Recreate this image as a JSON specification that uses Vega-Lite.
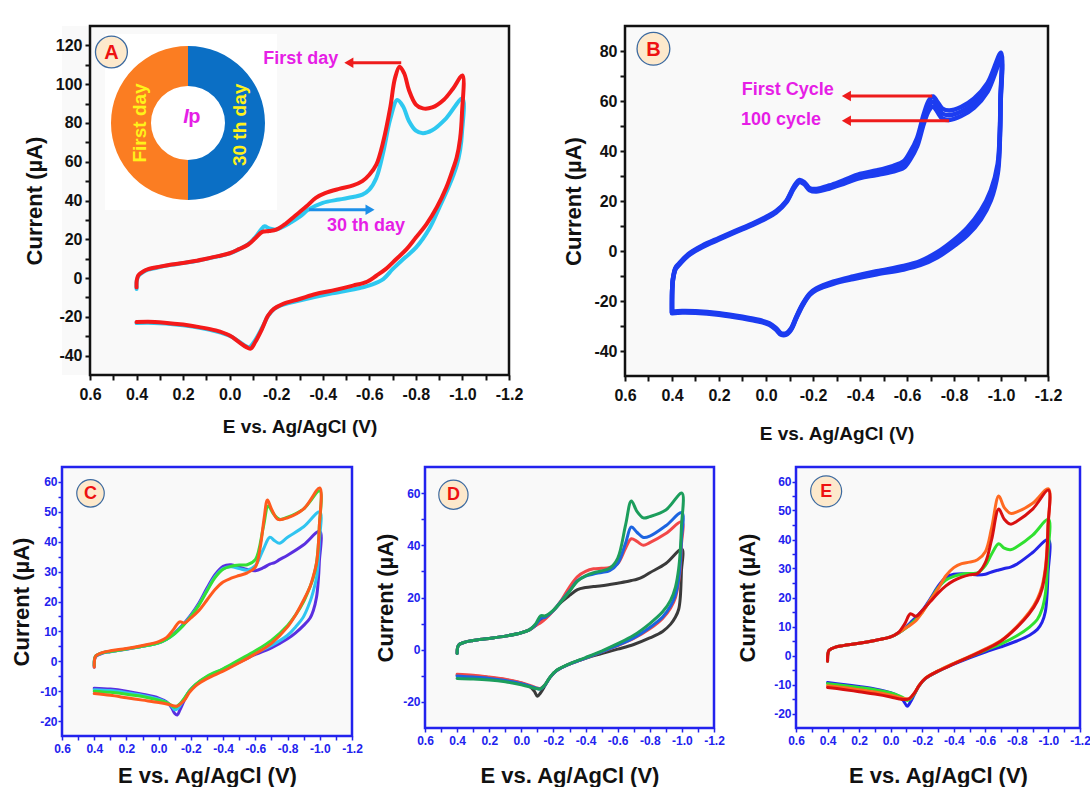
{
  "$schema": "https://vega.github.io/schema/vega-lite/v6.json",
  "background": "#ffffff",
  "padding": {"left": 8, "top": 24, "right": 0, "bottom": 0},
  "config": {
    "font": "Liberation Sans",
    "axis": {"grid": false, "domain": false, "ticks": true, "tickCount": 100, "labelFlush": false, "labelOverlap": false, "labelBound": false, "labelFontWeight": "bold", "titleFontWeight": "bold", "titleBaseline": "middle", "titleAlign": "center"},
    "text": {"fontWeight": "bold"}
  },
  "datasets": {
    "pa": [
      {"s":"30 th day","E":0.4,"I":-5.6},{"s":"30 th day","E":0.399,"I":-1.5},{"s":"30 th day","E":0.392,"I":1},{"s":"30 th day","E":0.37,"I":3.2},{"s":"30 th day","E":0.35,"I":4.3},{"s":"30 th day","E":0.3,"I":5.7},{"s":"30 th day","E":0.25,"I":6.8},{"s":"30 th day","E":0.2,"I":7.7},{"s":"30 th day","E":0.15,"I":8.7},{"s":"30 th day","E":0.1,"I":9.9},{"s":"30 th day","E":0.05,"I":11.2},{"s":"30 th day","E":0,"I":12.7},{"s":"30 th day","E":-0.04,"I":14.8},{"s":"30 th day","E":-0.08,"I":17.5},{"s":"30 th day","E":-0.11,"I":21},{"s":"30 th day","E":-0.135,"I":25},{"s":"30 th day","E":-0.15,"I":26.7},{"s":"30 th day","E":-0.17,"I":25.6},{"s":"30 th day","E":-0.2,"I":25},{"s":"30 th day","E":-0.23,"I":26.5},{"s":"30 th day","E":-0.26,"I":28.5},{"s":"30 th day","E":-0.3,"I":31.5},{"s":"30 th day","E":-0.34,"I":35.4},{"s":"30 th day","E":-0.4,"I":38.8},{"s":"30 th day","E":-0.47,"I":40.5},{"s":"30 th day","E":-0.53,"I":41.8},{"s":"30 th day","E":-0.57,"I":43},{"s":"30 th day","E":-0.6,"I":45.6},{"s":"30 th day","E":-0.63,"I":51.6},{"s":"30 th day","E":-0.66,"I":65},{"s":"30 th day","E":-0.69,"I":82},{"s":"30 th day","E":-0.72,"I":91.8},{"s":"30 th day","E":-0.745,"I":88.5},{"s":"30 th day","E":-0.77,"I":81},{"s":"30 th day","E":-0.8,"I":76},{"s":"30 th day","E":-0.83,"I":74.7},{"s":"30 th day","E":-0.87,"I":76.2},{"s":"30 th day","E":-0.93,"I":82.4},{"s":"30 th day","E":-1,"I":92.6},
      {"s":"30 th day","E":-0.998,"I":75},{"s":"30 th day","E":-0.99,"I":66},{"s":"30 th day","E":-0.975,"I":58},{"s":"30 th day","E":-0.945,"I":48.2},{"s":"30 th day","E":-0.9,"I":36.2},{"s":"30 th day","E":-0.86,"I":26},{"s":"30 th day","E":-0.8,"I":15.7},{"s":"30 th day","E":-0.745,"I":9.7},{"s":"30 th day","E":-0.7,"I":4.6},{"s":"30 th day","E":-0.66,"I":-0.5},{"s":"30 th day","E":-0.61,"I":-3.4},{"s":"30 th day","E":-0.56,"I":-5.1},{"s":"30 th day","E":-0.44,"I":-7.9},{"s":"30 th day","E":-0.3,"I":-11.6},{"s":"30 th day","E":-0.23,"I":-13.7},{"s":"30 th day","E":-0.19,"I":-16},{"s":"30 th day","E":-0.165,"I":-19.5},{"s":"30 th day","E":-0.14,"I":-25.5},{"s":"30 th day","E":-0.11,"I":-32},{"s":"30 th day","E":-0.085,"I":-35.6},{"s":"30 th day","E":-0.065,"I":-34.8},{"s":"30 th day","E":-0.01,"I":-30.4},{"s":"30 th day","E":0.06,"I":-27.5},{"s":"30 th day","E":0.2,"I":-24.4},{"s":"30 th day","E":0.35,"I":-23},{"s":"30 th day","E":0.4,"I":-23.2},
      {"s":"First day","E":0.4,"I":-4.8},{"s":"First day","E":0.399,"I":-1},{"s":"First day","E":0.392,"I":1.5},{"s":"First day","E":0.37,"I":3.5},{"s":"First day","E":0.35,"I":4.6},{"s":"First day","E":0.3,"I":5.9},{"s":"First day","E":0.25,"I":7},{"s":"First day","E":0.2,"I":7.8},{"s":"First day","E":0.15,"I":8.8},{"s":"First day","E":0.1,"I":10},{"s":"First day","E":0.05,"I":11.3},{"s":"First day","E":0,"I":12.8},{"s":"First day","E":-0.04,"I":14.9},{"s":"First day","E":-0.08,"I":17.3},{"s":"First day","E":-0.11,"I":20.5},{"s":"First day","E":-0.14,"I":23.8},{"s":"First day","E":-0.17,"I":24.3},{"s":"First day","E":-0.2,"I":25},{"s":"First day","E":-0.24,"I":28},{"s":"First day","E":-0.28,"I":32},{"s":"First day","E":-0.33,"I":37},{"s":"First day","E":-0.37,"I":41.4},{"s":"First day","E":-0.41,"I":43.8},{"s":"First day","E":-0.47,"I":46},{"s":"First day","E":-0.53,"I":47.8},{"s":"First day","E":-0.57,"I":50},{"s":"First day","E":-0.6,"I":53.3},{"s":"First day","E":-0.63,"I":58.5},{"s":"First day","E":-0.66,"I":70.5},{"s":"First day","E":-0.69,"I":88},{"s":"First day","E":-0.71,"I":103},{"s":"First day","E":-0.73,"I":109},{"s":"First day","E":-0.75,"I":105.5},{"s":"First day","E":-0.77,"I":97},{"s":"First day","E":-0.8,"I":89.5},{"s":"First day","E":-0.83,"I":87.5},{"s":"First day","E":-0.87,"I":88},{"s":"First day","E":-0.92,"I":92},{"s":"First day","E":-0.96,"I":97.8},{"s":"First day","E":-1,"I":104.5},
      {"s":"First day","E":-0.998,"I":85},{"s":"First day","E":-0.99,"I":72},{"s":"First day","E":-0.975,"I":62},{"s":"First day","E":-0.96,"I":56.5},{"s":"First day","E":-0.93,"I":46.5},{"s":"First day","E":-0.89,"I":36.5},{"s":"First day","E":-0.845,"I":27.7},{"s":"First day","E":-0.8,"I":20.9},{"s":"First day","E":-0.76,"I":14.9},{"s":"First day","E":-0.715,"I":9.7},{"s":"First day","E":-0.67,"I":4.6},{"s":"First day","E":-0.63,"I":1.2},{"s":"First day","E":-0.59,"I":-1.9},{"s":"First day","E":-0.53,"I":-3.9},{"s":"First day","E":-0.44,"I":-6.5},{"s":"First day","E":-0.37,"I":-8.2},{"s":"First day","E":-0.3,"I":-10.8},{"s":"First day","E":-0.23,"I":-13.3},{"s":"First day","E":-0.19,"I":-15.9},{"s":"First day","E":-0.165,"I":-19.3},{"s":"First day","E":-0.14,"I":-26},{"s":"First day","E":-0.11,"I":-33},{"s":"First day","E":-0.09,"I":-36.4},{"s":"First day","E":-0.07,"I":-35.5},{"s":"First day","E":-0.04,"I":-33},{"s":"First day","E":0,"I":-29.6},{"s":"First day","E":0.06,"I":-27},{"s":"First day","E":0.13,"I":-25.3},{"s":"First day","E":0.2,"I":-24},{"s":"First day","E":0.28,"I":-23},{"s":"First day","E":0.35,"I":-22.5},{"s":"First day","E":0.4,"I":-22.7}
    ],
    "pb": [
      {"s":"cycle 1","E":0.4,"I":-24.6},{"s":"cycle 1","E":0.399,"I":-15},{"s":"cycle 1","E":0.395,"I":-10.5},{"s":"cycle 1","E":0.385,"I":-6.7},{"s":"cycle 1","E":0.371,"I":-5.1},{"s":"cycle 1","E":0.33,"I":-1.2},{"s":"cycle 1","E":0.27,"I":2.2},{"s":"cycle 1","E":0.2,"I":5.2},{"s":"cycle 1","E":0.13,"I":8.1},{"s":"cycle 1","E":0.057,"I":11},{"s":"cycle 1","E":0,"I":13.6},{"s":"cycle 1","E":-0.043,"I":16},{"s":"cycle 1","E":-0.086,"I":20},{"s":"cycle 1","E":-0.12,"I":26},{"s":"cycle 1","E":-0.143,"I":28.4},{"s":"cycle 1","E":-0.164,"I":27.4},{"s":"cycle 1","E":-0.186,"I":25.1},{"s":"cycle 1","E":-0.214,"I":24.8},{"s":"cycle 1","E":-0.27,"I":26.2},{"s":"cycle 1","E":-0.33,"I":28.3},{"s":"cycle 1","E":-0.4,"I":30.8},{"s":"cycle 1","E":-0.47,"I":32.2},{"s":"cycle 1","E":-0.54,"I":34},{"s":"cycle 1","E":-0.586,"I":35.9},{"s":"cycle 1","E":-0.614,"I":39.7},{"s":"cycle 1","E":-0.643,"I":45.2},{"s":"cycle 1","E":-0.671,"I":54.6},{"s":"cycle 1","E":-0.693,"I":60.2},{"s":"cycle 1","E":-0.711,"I":61.8},{"s":"cycle 1","E":-0.729,"I":59.7},{"s":"cycle 1","E":-0.75,"I":57},{"s":"cycle 1","E":-0.779,"I":56.2},{"s":"cycle 1","E":-0.83,"I":57.6},{"s":"cycle 1","E":-0.886,"I":61},{"s":"cycle 1","E":-0.943,"I":67.2},{"s":"cycle 1","E":-1,"I":79.3},
      {"s":"cycle 1","E":-0.998,"I":61.8},{"s":"cycle 1","E":-0.995,"I":48},{"s":"cycle 1","E":-0.986,"I":34.9},{"s":"cycle 1","E":-0.957,"I":24.3},{"s":"cycle 1","E":-0.914,"I":16.2},{"s":"cycle 1","E":-0.857,"I":9.3},{"s":"cycle 1","E":-0.8,"I":4.4},{"s":"cycle 1","E":-0.729,"I":-0.5},{"s":"cycle 1","E":-0.657,"I":-4},{"s":"cycle 1","E":-0.586,"I":-6},{"s":"cycle 1","E":-0.471,"I":-8.1},{"s":"cycle 1","E":-0.371,"I":-10.2},{"s":"cycle 1","E":-0.286,"I":-12.3},{"s":"cycle 1","E":-0.214,"I":-15},{"s":"cycle 1","E":-0.186,"I":-17},{"s":"cycle 1","E":-0.157,"I":-21},{"s":"cycle 1","E":-0.129,"I":-26.3},{"s":"cycle 1","E":-0.107,"I":-30.9},{"s":"cycle 1","E":-0.086,"I":-32.9},{"s":"cycle 1","E":-0.064,"I":-32.9},{"s":"cycle 1","E":-0.043,"I":-30.9},{"s":"cycle 1","E":-0.014,"I":-28.9},{"s":"cycle 1","E":0.029,"I":-27.6},{"s":"cycle 1","E":0.1,"I":-26.3},{"s":"cycle 1","E":0.2,"I":-24.9},{"s":"cycle 1","E":0.3,"I":-24.1},{"s":"cycle 1","E":0.357,"I":-24},{"s":"cycle 1","E":0.4,"I":-24.3},
      {"s":"cycle 50","E":0.4,"I":-24.6},{"s":"cycle 50","E":0.399,"I":-15},{"s":"cycle 50","E":0.395,"I":-10.7},{"s":"cycle 50","E":0.385,"I":-7},{"s":"cycle 50","E":0.371,"I":-5.4},{"s":"cycle 50","E":0.33,"I":-1.5},{"s":"cycle 50","E":0.27,"I":1.9},{"s":"cycle 50","E":0.2,"I":4.9},{"s":"cycle 50","E":0.13,"I":7.8},{"s":"cycle 50","E":0.057,"I":10.7},{"s":"cycle 50","E":0,"I":13.3},{"s":"cycle 50","E":-0.043,"I":15.7},{"s":"cycle 50","E":-0.086,"I":19.7},{"s":"cycle 50","E":-0.12,"I":25.6},{"s":"cycle 50","E":-0.143,"I":28},{"s":"cycle 50","E":-0.164,"I":27},{"s":"cycle 50","E":-0.186,"I":24.7},{"s":"cycle 50","E":-0.214,"I":24.3},{"s":"cycle 50","E":-0.27,"I":25.6},{"s":"cycle 50","E":-0.33,"I":27.6},{"s":"cycle 50","E":-0.4,"I":30},{"s":"cycle 50","E":-0.47,"I":31.3},{"s":"cycle 50","E":-0.54,"I":32.9},{"s":"cycle 50","E":-0.586,"I":34.6},{"s":"cycle 50","E":-0.614,"I":38.2},{"s":"cycle 50","E":-0.643,"I":43.5},{"s":"cycle 50","E":-0.671,"I":52.7},{"s":"cycle 50","E":-0.693,"I":58.2},{"s":"cycle 50","E":-0.711,"I":59.8},{"s":"cycle 50","E":-0.729,"I":57.7},{"s":"cycle 50","E":-0.75,"I":55},{"s":"cycle 50","E":-0.779,"I":54.3},{"s":"cycle 50","E":-0.83,"I":55.8},{"s":"cycle 50","E":-0.886,"I":59.2},{"s":"cycle 50","E":-0.943,"I":65.5},{"s":"cycle 50","E":-1,"I":77.8},
      {"s":"cycle 50","E":-0.998,"I":60},{"s":"cycle 50","E":-0.995,"I":46},{"s":"cycle 50","E":-0.986,"I":32.9},{"s":"cycle 50","E":-0.957,"I":22.3},{"s":"cycle 50","E":-0.914,"I":14.4},{"s":"cycle 50","E":-0.857,"I":7.8},{"s":"cycle 50","E":-0.8,"I":3.2},{"s":"cycle 50","E":-0.729,"I":-1.5},{"s":"cycle 50","E":-0.657,"I":-4.8},{"s":"cycle 50","E":-0.586,"I":-6.7},{"s":"cycle 50","E":-0.471,"I":-8.7},{"s":"cycle 50","E":-0.371,"I":-10.7},{"s":"cycle 50","E":-0.286,"I":-12.7},{"s":"cycle 50","E":-0.214,"I":-15.3},{"s":"cycle 50","E":-0.186,"I":-17.3},{"s":"cycle 50","E":-0.157,"I":-21.3},{"s":"cycle 50","E":-0.129,"I":-26.6},{"s":"cycle 50","E":-0.107,"I":-31.2},{"s":"cycle 50","E":-0.086,"I":-33.2},{"s":"cycle 50","E":-0.064,"I":-33.2},{"s":"cycle 50","E":-0.043,"I":-31.2},{"s":"cycle 50","E":-0.014,"I":-29.2},{"s":"cycle 50","E":0.029,"I":-27.9},{"s":"cycle 50","E":0.1,"I":-26.6},{"s":"cycle 50","E":0.2,"I":-25.2},{"s":"cycle 50","E":0.3,"I":-24.4},{"s":"cycle 50","E":0.357,"I":-24.3},{"s":"cycle 50","E":0.4,"I":-24.6},
      {"s":"cycle 100","E":0.4,"I":-24.6},{"s":"cycle 100","E":0.399,"I":-15},{"s":"cycle 100","E":0.395,"I":-10.9},{"s":"cycle 100","E":0.385,"I":-7.3},{"s":"cycle 100","E":0.371,"I":-5.7},{"s":"cycle 100","E":0.33,"I":-1.8},{"s":"cycle 100","E":0.27,"I":1.6},{"s":"cycle 100","E":0.2,"I":4.6},{"s":"cycle 100","E":0.13,"I":7.5},{"s":"cycle 100","E":0.057,"I":10.4},{"s":"cycle 100","E":0,"I":13},{"s":"cycle 100","E":-0.043,"I":15.4},{"s":"cycle 100","E":-0.086,"I":19.4},{"s":"cycle 100","E":-0.12,"I":25.2},{"s":"cycle 100","E":-0.143,"I":27.6},{"s":"cycle 100","E":-0.164,"I":26.6},{"s":"cycle 100","E":-0.186,"I":24.3},{"s":"cycle 100","E":-0.214,"I":23.8},{"s":"cycle 100","E":-0.27,"I":25},{"s":"cycle 100","E":-0.33,"I":26.9},{"s":"cycle 100","E":-0.4,"I":29.2},{"s":"cycle 100","E":-0.47,"I":30.4},{"s":"cycle 100","E":-0.54,"I":31.8},{"s":"cycle 100","E":-0.586,"I":33.3},{"s":"cycle 100","E":-0.614,"I":36.7},{"s":"cycle 100","E":-0.643,"I":41.8},{"s":"cycle 100","E":-0.671,"I":50.8},{"s":"cycle 100","E":-0.693,"I":56.2},{"s":"cycle 100","E":-0.711,"I":57.8},{"s":"cycle 100","E":-0.729,"I":55.7},{"s":"cycle 100","E":-0.75,"I":53},{"s":"cycle 100","E":-0.779,"I":52.4},{"s":"cycle 100","E":-0.83,"I":54},{"s":"cycle 100","E":-0.886,"I":57.4},{"s":"cycle 100","E":-0.943,"I":63.8},{"s":"cycle 100","E":-1,"I":76.3},
      {"s":"cycle 100","E":-0.998,"I":58.2},{"s":"cycle 100","E":-0.995,"I":44},{"s":"cycle 100","E":-0.986,"I":30.9},{"s":"cycle 100","E":-0.957,"I":20.3},{"s":"cycle 100","E":-0.914,"I":12.6},{"s":"cycle 100","E":-0.857,"I":6.3},{"s":"cycle 100","E":-0.8,"I":2},{"s":"cycle 100","E":-0.729,"I":-2.5},{"s":"cycle 100","E":-0.657,"I":-5.6},{"s":"cycle 100","E":-0.586,"I":-7.4},{"s":"cycle 100","E":-0.471,"I":-9.3},{"s":"cycle 100","E":-0.371,"I":-11.2},{"s":"cycle 100","E":-0.286,"I":-13.1},{"s":"cycle 100","E":-0.214,"I":-15.6},{"s":"cycle 100","E":-0.186,"I":-17.6},{"s":"cycle 100","E":-0.157,"I":-21.6},{"s":"cycle 100","E":-0.129,"I":-26.9},{"s":"cycle 100","E":-0.107,"I":-31.5},{"s":"cycle 100","E":-0.086,"I":-33.5},{"s":"cycle 100","E":-0.064,"I":-33.5},{"s":"cycle 100","E":-0.043,"I":-31.5},{"s":"cycle 100","E":-0.014,"I":-29.5},{"s":"cycle 100","E":0.029,"I":-28.2},{"s":"cycle 100","E":0.1,"I":-26.9},{"s":"cycle 100","E":0.2,"I":-25.5},{"s":"cycle 100","E":0.3,"I":-24.7},{"s":"cycle 100","E":0.357,"I":-24.6},{"s":"cycle 100","E":0.4,"I":-24.9}
    ],
    "pc": [
      {"s":"scan 1","E":0.4,"I":-2},{"s":"scan 1","E":0.398,"I":0.5},{"s":"scan 1","E":0.39,"I":1.6},{"s":"scan 1","E":0.35,"I":2.7},{"s":"scan 1","E":0.3,"I":3.2},{"s":"scan 1","E":0.2,"I":4},{"s":"scan 1","E":0.1,"I":5},{"s":"scan 1","E":0,"I":6.2},{"s":"scan 1","E":-0.05,"I":7.4},{"s":"scan 1","E":-0.1,"I":9.5},{"s":"scan 1","E":-0.15,"I":12.2},{"s":"scan 1","E":-0.2,"I":15.5},{"s":"scan 1","E":-0.25,"I":19.5},{"s":"scan 1","E":-0.3,"I":24.5},{"s":"scan 1","E":-0.35,"I":29},{"s":"scan 1","E":-0.4,"I":31.8},{"s":"scan 1","E":-0.45,"I":32.3},{"s":"scan 1","E":-0.5,"I":31.5},{"s":"scan 1","E":-0.55,"I":30.7},{"s":"scan 1","E":-0.6,"I":30.3},{"s":"scan 1","E":-0.65,"I":31.3},{"s":"scan 1","E":-0.69,"I":32.5},{"s":"scan 1","E":-0.72,"I":33},{"s":"scan 1","E":-0.75,"I":34},{"s":"scan 1","E":-0.8,"I":35.5},{"s":"scan 1","E":-0.9,"I":39},{"s":"scan 1","E":-1,"I":43.5},
      {"s":"scan 1","E":-0.997,"I":33},{"s":"scan 1","E":-0.99,"I":26.5},{"s":"scan 1","E":-0.98,"I":21.5},{"s":"scan 1","E":-0.96,"I":17},{"s":"scan 1","E":-0.94,"I":14.5},{"s":"scan 1","E":-0.9,"I":12},{"s":"scan 1","E":-0.85,"I":9.5},{"s":"scan 1","E":-0.8,"I":7.5},{"s":"scan 1","E":-0.7,"I":4.5},{"s":"scan 1","E":-0.6,"I":2.3},{"s":"scan 1","E":-0.5,"I":-0.3},{"s":"scan 1","E":-0.4,"I":-2.8},{"s":"scan 1","E":-0.3,"I":-5.3},{"s":"scan 1","E":-0.23,"I":-7.8},{"s":"scan 1","E":-0.19,"I":-10},{"s":"scan 1","E":-0.16,"I":-13},{"s":"scan 1","E":-0.13,"I":-16.5},{"s":"scan 1","E":-0.115,"I":-18},{"s":"scan 1","E":-0.1,"I":-17.5},{"s":"scan 1","E":-0.08,"I":-15.5},{"s":"scan 1","E":-0.05,"I":-13.6},{"s":"scan 1","E":0,"I":-12.3},{"s":"scan 1","E":0.1,"I":-11},{"s":"scan 1","E":0.2,"I":-10},{"s":"scan 1","E":0.3,"I":-9.3},{"s":"scan 1","E":0.4,"I":-9},
      {"s":"scan 2","E":0.4,"I":-1.5},{"s":"scan 2","E":0.398,"I":0.8},{"s":"scan 2","E":0.39,"I":1.8},{"s":"scan 2","E":0.35,"I":2.8},{"s":"scan 2","E":0.3,"I":3.3},{"s":"scan 2","E":0.2,"I":4.1},{"s":"scan 2","E":0.1,"I":5},{"s":"scan 2","E":0,"I":6.2},{"s":"scan 2","E":-0.05,"I":7.4},{"s":"scan 2","E":-0.1,"I":9.3},{"s":"scan 2","E":-0.15,"I":12},{"s":"scan 2","E":-0.2,"I":15.2},{"s":"scan 2","E":-0.25,"I":19},{"s":"scan 2","E":-0.3,"I":23.8},{"s":"scan 2","E":-0.35,"I":28.3},{"s":"scan 2","E":-0.4,"I":31},{"s":"scan 2","E":-0.45,"I":31.6},{"s":"scan 2","E":-0.5,"I":31},{"s":"scan 2","E":-0.55,"I":30.5},{"s":"scan 2","E":-0.6,"I":32},{"s":"scan 2","E":-0.65,"I":37.5},{"s":"scan 2","E":-0.69,"I":41.5},{"s":"scan 2","E":-0.72,"I":40.3},{"s":"scan 2","E":-0.75,"I":39.5},{"s":"scan 2","E":-0.8,"I":41.5},{"s":"scan 2","E":-0.9,"I":45},{"s":"scan 2","E":-1,"I":50},
      {"s":"scan 2","E":-0.997,"I":40},{"s":"scan 2","E":-0.99,"I":33},{"s":"scan 2","E":-0.98,"I":28},{"s":"scan 2","E":-0.96,"I":23.5},{"s":"scan 2","E":-0.94,"I":20},{"s":"scan 2","E":-0.9,"I":15},{"s":"scan 2","E":-0.85,"I":11.5},{"s":"scan 2","E":-0.8,"I":8.7},{"s":"scan 2","E":-0.7,"I":5.3},{"s":"scan 2","E":-0.6,"I":2.8},{"s":"scan 2","E":-0.5,"I":0},{"s":"scan 2","E":-0.4,"I":-2.6},{"s":"scan 2","E":-0.3,"I":-5.2},{"s":"scan 2","E":-0.23,"I":-7.8},{"s":"scan 2","E":-0.19,"I":-10},{"s":"scan 2","E":-0.16,"I":-12.5},{"s":"scan 2","E":-0.13,"I":-15},{"s":"scan 2","E":-0.115,"I":-16},{"s":"scan 2","E":-0.1,"I":-16.2},{"s":"scan 2","E":-0.08,"I":-15},{"s":"scan 2","E":-0.05,"I":-13.8},{"s":"scan 2","E":0,"I":-12.7},{"s":"scan 2","E":0.1,"I":-11.4},{"s":"scan 2","E":0.2,"I":-10.5},{"s":"scan 2","E":0.3,"I":-9.8},{"s":"scan 2","E":0.4,"I":-9.5},
      {"s":"scan 3","E":0.4,"I":-1.5},{"s":"scan 3","E":0.398,"I":0.8},{"s":"scan 3","E":0.39,"I":1.8},{"s":"scan 3","E":0.35,"I":2.8},{"s":"scan 3","E":0.3,"I":3.3},{"s":"scan 3","E":0.2,"I":4.1},{"s":"scan 3","E":0.1,"I":5},{"s":"scan 3","E":0,"I":6.2},{"s":"scan 3","E":-0.05,"I":7.4},{"s":"scan 3","E":-0.1,"I":9.3},{"s":"scan 3","E":-0.15,"I":11.8},{"s":"scan 3","E":-0.2,"I":15},{"s":"scan 3","E":-0.25,"I":18.8},{"s":"scan 3","E":-0.3,"I":23.5},{"s":"scan 3","E":-0.35,"I":28},{"s":"scan 3","E":-0.4,"I":30.8},{"s":"scan 3","E":-0.45,"I":31.8},{"s":"scan 3","E":-0.5,"I":32.2},{"s":"scan 3","E":-0.55,"I":32.3},{"s":"scan 3","E":-0.6,"I":34},{"s":"scan 3","E":-0.65,"I":45},{"s":"scan 3","E":-0.68,"I":52},{"s":"scan 3","E":-0.71,"I":49.5},{"s":"scan 3","E":-0.75,"I":47.5},{"s":"scan 3","E":-0.8,"I":48.2},{"s":"scan 3","E":-0.9,"I":51},{"s":"scan 3","E":-1,"I":57},
      {"s":"scan 3","E":-0.997,"I":45},{"s":"scan 3","E":-0.99,"I":38},{"s":"scan 3","E":-0.98,"I":33},{"s":"scan 3","E":-0.96,"I":28},{"s":"scan 3","E":-0.94,"I":25},{"s":"scan 3","E":-0.9,"I":20},{"s":"scan 3","E":-0.85,"I":15.5},{"s":"scan 3","E":-0.8,"I":12},{"s":"scan 3","E":-0.7,"I":7},{"s":"scan 3","E":-0.6,"I":3.5},{"s":"scan 3","E":-0.5,"I":0.5},{"s":"scan 3","E":-0.4,"I":-2.5},{"s":"scan 3","E":-0.3,"I":-5},{"s":"scan 3","E":-0.23,"I":-7.7},{"s":"scan 3","E":-0.19,"I":-10},{"s":"scan 3","E":-0.16,"I":-12.3},{"s":"scan 3","E":-0.13,"I":-14.3},{"s":"scan 3","E":-0.115,"I":-15},{"s":"scan 3","E":-0.1,"I":-15.4},{"s":"scan 3","E":-0.08,"I":-14.8},{"s":"scan 3","E":-0.05,"I":-13.8},{"s":"scan 3","E":0,"I":-13},{"s":"scan 3","E":0.1,"I":-11.8},{"s":"scan 3","E":0.2,"I":-11},{"s":"scan 3","E":0.3,"I":-10.4},{"s":"scan 3","E":0.4,"I":-10},
      {"s":"scan 4","E":0.4,"I":-2},{"s":"scan 4","E":0.398,"I":0.5},{"s":"scan 4","E":0.39,"I":1.8},{"s":"scan 4","E":0.35,"I":2.9},{"s":"scan 4","E":0.3,"I":3.5},{"s":"scan 4","E":0.2,"I":4.3},{"s":"scan 4","E":0.1,"I":5.3},{"s":"scan 4","E":0,"I":6.6},{"s":"scan 4","E":-0.05,"I":8},{"s":"scan 4","E":-0.09,"I":10.5},{"s":"scan 4","E":-0.13,"I":13.2},{"s":"scan 4","E":-0.16,"I":12.8},{"s":"scan 4","E":-0.2,"I":14.5},{"s":"scan 4","E":-0.25,"I":17},{"s":"scan 4","E":-0.3,"I":20.5},{"s":"scan 4","E":-0.35,"I":24},{"s":"scan 4","E":-0.4,"I":26.5},{"s":"scan 4","E":-0.45,"I":27.8},{"s":"scan 4","E":-0.5,"I":28.7},{"s":"scan 4","E":-0.55,"I":29.6},{"s":"scan 4","E":-0.6,"I":31.5},{"s":"scan 4","E":-0.63,"I":38},{"s":"scan 4","E":-0.655,"I":48},{"s":"scan 4","E":-0.675,"I":54},{"s":"scan 4","E":-0.7,"I":51},{"s":"scan 4","E":-0.74,"I":47.5},{"s":"scan 4","E":-0.8,"I":48},{"s":"scan 4","E":-0.9,"I":51},{"s":"scan 4","E":-1,"I":58},
      {"s":"scan 4","E":-0.997,"I":45},{"s":"scan 4","E":-0.99,"I":38},{"s":"scan 4","E":-0.98,"I":33},{"s":"scan 4","E":-0.96,"I":28.5},{"s":"scan 4","E":-0.94,"I":25},{"s":"scan 4","E":-0.9,"I":20.5},{"s":"scan 4","E":-0.85,"I":15.5},{"s":"scan 4","E":-0.8,"I":11.5},{"s":"scan 4","E":-0.7,"I":6},{"s":"scan 4","E":-0.6,"I":2.5},{"s":"scan 4","E":-0.5,"I":-0.5},{"s":"scan 4","E":-0.4,"I":-3.3},{"s":"scan 4","E":-0.3,"I":-5.8},{"s":"scan 4","E":-0.23,"I":-8.2},{"s":"scan 4","E":-0.19,"I":-10.5},{"s":"scan 4","E":-0.16,"I":-13},{"s":"scan 4","E":-0.13,"I":-14.5},{"s":"scan 4","E":-0.115,"I":-15},{"s":"scan 4","E":-0.1,"I":-15},{"s":"scan 4","E":-0.08,"I":-14.7},{"s":"scan 4","E":-0.05,"I":-14.3},{"s":"scan 4","E":0,"I":-13.8},{"s":"scan 4","E":0.1,"I":-13},{"s":"scan 4","E":0.2,"I":-12.2},{"s":"scan 4","E":0.3,"I":-11.4},{"s":"scan 4","E":0.4,"I":-10.8}
    ],
    "pd": [
      {"s":"scan 1","E":0.4,"I":-1.5},{"s":"scan 1","E":0.398,"I":0.5},{"s":"scan 1","E":0.39,"I":1.8},{"s":"scan 1","E":0.35,"I":2.9},{"s":"scan 1","E":0.3,"I":3.5},{"s":"scan 1","E":0.2,"I":4.3},{"s":"scan 1","E":0.1,"I":5.2},{"s":"scan 1","E":0,"I":6.5},{"s":"scan 1","E":-0.05,"I":7.6},{"s":"scan 1","E":-0.09,"I":9.3},{"s":"scan 1","E":-0.12,"I":10.8},{"s":"scan 1","E":-0.15,"I":12.2},{"s":"scan 1","E":-0.2,"I":15},{"s":"scan 1","E":-0.25,"I":18.3},{"s":"scan 1","E":-0.3,"I":20.8},{"s":"scan 1","E":-0.35,"I":23},{"s":"scan 1","E":-0.4,"I":23.8},{"s":"scan 1","E":-0.45,"I":24.2},{"s":"scan 1","E":-0.5,"I":24.5},{"s":"scan 1","E":-0.55,"I":25},{"s":"scan 1","E":-0.6,"I":25.5},{"s":"scan 1","E":-0.65,"I":26},{"s":"scan 1","E":-0.685,"I":26.5},{"s":"scan 1","E":-0.72,"I":27},{"s":"scan 1","E":-0.76,"I":28},{"s":"scan 1","E":-0.8,"I":29.5},{"s":"scan 1","E":-0.9,"I":33},{"s":"scan 1","E":-1,"I":38.5},
      {"s":"scan 1","E":-0.997,"I":30},{"s":"scan 1","E":-0.99,"I":20},{"s":"scan 1","E":-0.98,"I":15.5},{"s":"scan 1","E":-0.96,"I":12.5},{"s":"scan 1","E":-0.93,"I":9.8},{"s":"scan 1","E":-0.88,"I":7},{"s":"scan 1","E":-0.8,"I":4.5},{"s":"scan 1","E":-0.7,"I":2},{"s":"scan 1","E":-0.6,"I":0.2},{"s":"scan 1","E":-0.5,"I":-1.5},{"s":"scan 1","E":-0.4,"I":-3.3},{"s":"scan 1","E":-0.3,"I":-5.5},{"s":"scan 1","E":-0.22,"I":-8},{"s":"scan 1","E":-0.18,"I":-10.5},{"s":"scan 1","E":-0.15,"I":-13.5},{"s":"scan 1","E":-0.12,"I":-16.5},{"s":"scan 1","E":-0.1,"I":-17.8},{"s":"scan 1","E":-0.08,"I":-15.8},{"s":"scan 1","E":-0.05,"I":-14},{"s":"scan 1","E":0,"I":-12.8},{"s":"scan 1","E":0.1,"I":-11.5},{"s":"scan 1","E":0.2,"I":-10.7},{"s":"scan 1","E":0.3,"I":-10.2},{"s":"scan 1","E":0.4,"I":-9.8},
      {"s":"scan 2","E":0.4,"I":-1.5},{"s":"scan 2","E":0.398,"I":0.5},{"s":"scan 2","E":0.39,"I":1.8},{"s":"scan 2","E":0.35,"I":2.9},{"s":"scan 2","E":0.3,"I":3.5},{"s":"scan 2","E":0.2,"I":4.3},{"s":"scan 2","E":0.1,"I":5.2},{"s":"scan 2","E":0,"I":6.5},{"s":"scan 2","E":-0.05,"I":7.6},{"s":"scan 2","E":-0.09,"I":9.3},{"s":"scan 2","E":-0.12,"I":10.3},{"s":"scan 2","E":-0.15,"I":11.8},{"s":"scan 2","E":-0.2,"I":15},{"s":"scan 2","E":-0.25,"I":19},{"s":"scan 2","E":-0.3,"I":24},{"s":"scan 2","E":-0.35,"I":28},{"s":"scan 2","E":-0.4,"I":30},{"s":"scan 2","E":-0.45,"I":31},{"s":"scan 2","E":-0.5,"I":31.2},{"s":"scan 2","E":-0.55,"I":31.5},{"s":"scan 2","E":-0.6,"I":33},{"s":"scan 2","E":-0.65,"I":39},{"s":"scan 2","E":-0.685,"I":42.5},{"s":"scan 2","E":-0.72,"I":41.5},{"s":"scan 2","E":-0.76,"I":40},{"s":"scan 2","E":-0.8,"I":41},{"s":"scan 2","E":-0.9,"I":44.5},{"s":"scan 2","E":-1,"I":49},
      {"s":"scan 2","E":-0.997,"I":40},{"s":"scan 2","E":-0.99,"I":31},{"s":"scan 2","E":-0.98,"I":26},{"s":"scan 2","E":-0.96,"I":20},{"s":"scan 2","E":-0.93,"I":16},{"s":"scan 2","E":-0.88,"I":12},{"s":"scan 2","E":-0.8,"I":8},{"s":"scan 2","E":-0.7,"I":4.3},{"s":"scan 2","E":-0.6,"I":1.6},{"s":"scan 2","E":-0.5,"I":-0.8},{"s":"scan 2","E":-0.4,"I":-3.2},{"s":"scan 2","E":-0.3,"I":-5.5},{"s":"scan 2","E":-0.22,"I":-8},{"s":"scan 2","E":-0.18,"I":-10.5},{"s":"scan 2","E":-0.15,"I":-13.2},{"s":"scan 2","E":-0.12,"I":-14.8},{"s":"scan 2","E":-0.1,"I":-14.7},{"s":"scan 2","E":-0.08,"I":-14.3},{"s":"scan 2","E":-0.05,"I":-13.6},{"s":"scan 2","E":0,"I":-12.6},{"s":"scan 2","E":0.1,"I":-11.3},{"s":"scan 2","E":0.2,"I":-10.5},{"s":"scan 2","E":0.3,"I":-9.8},{"s":"scan 2","E":0.4,"I":-9.4},
      {"s":"scan 3","E":0.4,"I":-1.5},{"s":"scan 3","E":0.398,"I":0.5},{"s":"scan 3","E":0.39,"I":1.8},{"s":"scan 3","E":0.35,"I":2.9},{"s":"scan 3","E":0.3,"I":3.5},{"s":"scan 3","E":0.2,"I":4.3},{"s":"scan 3","E":0.1,"I":5.2},{"s":"scan 3","E":0,"I":6.5},{"s":"scan 3","E":-0.05,"I":7.6},{"s":"scan 3","E":-0.09,"I":9.6},{"s":"scan 3","E":-0.12,"I":12},{"s":"scan 3","E":-0.15,"I":12.5},{"s":"scan 3","E":-0.2,"I":15},{"s":"scan 3","E":-0.25,"I":18.8},{"s":"scan 3","E":-0.3,"I":22.5},{"s":"scan 3","E":-0.35,"I":26.5},{"s":"scan 3","E":-0.4,"I":28.2},{"s":"scan 3","E":-0.45,"I":29},{"s":"scan 3","E":-0.5,"I":29.6},{"s":"scan 3","E":-0.55,"I":30.3},{"s":"scan 3","E":-0.6,"I":33},{"s":"scan 3","E":-0.65,"I":41},{"s":"scan 3","E":-0.685,"I":47},{"s":"scan 3","E":-0.72,"I":45},{"s":"scan 3","E":-0.76,"I":43},{"s":"scan 3","E":-0.8,"I":43.5},{"s":"scan 3","E":-0.9,"I":47.5},{"s":"scan 3","E":-1,"I":52.5},
      {"s":"scan 3","E":-0.997,"I":42},{"s":"scan 3","E":-0.99,"I":33},{"s":"scan 3","E":-0.98,"I":27},{"s":"scan 3","E":-0.96,"I":21},{"s":"scan 3","E":-0.93,"I":16.8},{"s":"scan 3","E":-0.88,"I":12.5},{"s":"scan 3","E":-0.8,"I":8.5},{"s":"scan 3","E":-0.7,"I":4.5},{"s":"scan 3","E":-0.6,"I":1.7},{"s":"scan 3","E":-0.5,"I":-0.8},{"s":"scan 3","E":-0.4,"I":-3.2},{"s":"scan 3","E":-0.3,"I":-5.5},{"s":"scan 3","E":-0.22,"I":-8},{"s":"scan 3","E":-0.18,"I":-10.5},{"s":"scan 3","E":-0.15,"I":-13.3},{"s":"scan 3","E":-0.12,"I":-15},{"s":"scan 3","E":-0.1,"I":-14.9},{"s":"scan 3","E":-0.08,"I":-14.5},{"s":"scan 3","E":-0.05,"I":-13.9},{"s":"scan 3","E":0,"I":-13},{"s":"scan 3","E":0.1,"I":-11.8},{"s":"scan 3","E":0.2,"I":-11},{"s":"scan 3","E":0.3,"I":-10.5},{"s":"scan 3","E":0.4,"I":-10.1},
      {"s":"scan 4","E":0.4,"I":-1.5},{"s":"scan 4","E":0.398,"I":0.5},{"s":"scan 4","E":0.39,"I":1.8},{"s":"scan 4","E":0.35,"I":2.9},{"s":"scan 4","E":0.3,"I":3.5},{"s":"scan 4","E":0.2,"I":4.3},{"s":"scan 4","E":0.1,"I":5.2},{"s":"scan 4","E":0,"I":6.5},{"s":"scan 4","E":-0.05,"I":7.6},{"s":"scan 4","E":-0.09,"I":10},{"s":"scan 4","E":-0.12,"I":13},{"s":"scan 4","E":-0.15,"I":13},{"s":"scan 4","E":-0.2,"I":15.2},{"s":"scan 4","E":-0.25,"I":18.6},{"s":"scan 4","E":-0.3,"I":22.3},{"s":"scan 4","E":-0.35,"I":26.3},{"s":"scan 4","E":-0.4,"I":28.3},{"s":"scan 4","E":-0.45,"I":29.5},{"s":"scan 4","E":-0.5,"I":30.2},{"s":"scan 4","E":-0.55,"I":31.2},{"s":"scan 4","E":-0.6,"I":35},{"s":"scan 4","E":-0.65,"I":48},{"s":"scan 4","E":-0.685,"I":57},{"s":"scan 4","E":-0.72,"I":53},{"s":"scan 4","E":-0.76,"I":50.5},{"s":"scan 4","E":-0.8,"I":51},{"s":"scan 4","E":-0.9,"I":53.5},{"s":"scan 4","E":-1,"I":60},
      {"s":"scan 4","E":-0.997,"I":47},{"s":"scan 4","E":-0.99,"I":38},{"s":"scan 4","E":-0.98,"I":31},{"s":"scan 4","E":-0.96,"I":24},{"s":"scan 4","E":-0.93,"I":19},{"s":"scan 4","E":-0.88,"I":14.5},{"s":"scan 4","E":-0.8,"I":10},{"s":"scan 4","E":-0.7,"I":5.5},{"s":"scan 4","E":-0.6,"I":2.3},{"s":"scan 4","E":-0.5,"I":-0.5},{"s":"scan 4","E":-0.4,"I":-3},{"s":"scan 4","E":-0.3,"I":-5.4},{"s":"scan 4","E":-0.22,"I":-7.9},{"s":"scan 4","E":-0.18,"I":-10.4},{"s":"scan 4","E":-0.15,"I":-13.2},{"s":"scan 4","E":-0.12,"I":-15},{"s":"scan 4","E":-0.1,"I":-15},{"s":"scan 4","E":-0.08,"I":-14.8},{"s":"scan 4","E":-0.05,"I":-14.2},{"s":"scan 4","E":0,"I":-13.4},{"s":"scan 4","E":0.1,"I":-12.3},{"s":"scan 4","E":0.2,"I":-11.6},{"s":"scan 4","E":0.3,"I":-11.2},{"s":"scan 4","E":0.4,"I":-11}
    ],
    "pe": [
      {"s":"scan 1","E":0.4,"I":-2},{"s":"scan 1","E":0.398,"I":0.5},{"s":"scan 1","E":0.39,"I":1.8},{"s":"scan 1","E":0.35,"I":2.9},{"s":"scan 1","E":0.3,"I":3.4},{"s":"scan 1","E":0.2,"I":4.2},{"s":"scan 1","E":0.1,"I":5.2},{"s":"scan 1","E":0,"I":6.4},{"s":"scan 1","E":-0.05,"I":7.8},{"s":"scan 1","E":-0.09,"I":9.4},{"s":"scan 1","E":-0.125,"I":11.3},{"s":"scan 1","E":-0.16,"I":13.2},{"s":"scan 1","E":-0.2,"I":15.5},{"s":"scan 1","E":-0.25,"I":19.5},{"s":"scan 1","E":-0.3,"I":23.8},{"s":"scan 1","E":-0.35,"I":27},{"s":"scan 1","E":-0.4,"I":28},{"s":"scan 1","E":-0.45,"I":28.2},{"s":"scan 1","E":-0.5,"I":28},{"s":"scan 1","E":-0.55,"I":27.8},{"s":"scan 1","E":-0.6,"I":28},{"s":"scan 1","E":-0.64,"I":28.8},{"s":"scan 1","E":-0.685,"I":29.5},{"s":"scan 1","E":-0.72,"I":30},{"s":"scan 1","E":-0.76,"I":30.5},{"s":"scan 1","E":-0.8,"I":31.5},{"s":"scan 1","E":-0.9,"I":35.5},{"s":"scan 1","E":-1,"I":40},
      {"s":"scan 1","E":-0.997,"I":28},{"s":"scan 1","E":-0.99,"I":20},{"s":"scan 1","E":-0.98,"I":15},{"s":"scan 1","E":-0.96,"I":11.5},{"s":"scan 1","E":-0.93,"I":9},{"s":"scan 1","E":-0.88,"I":7},{"s":"scan 1","E":-0.8,"I":5},{"s":"scan 1","E":-0.7,"I":3},{"s":"scan 1","E":-0.6,"I":1.2},{"s":"scan 1","E":-0.5,"I":-0.8},{"s":"scan 1","E":-0.4,"I":-3},{"s":"scan 1","E":-0.3,"I":-5.5},{"s":"scan 1","E":-0.22,"I":-8},{"s":"scan 1","E":-0.18,"I":-10.5},{"s":"scan 1","E":-0.15,"I":-13.5},{"s":"scan 1","E":-0.12,"I":-16.5},{"s":"scan 1","E":-0.105,"I":-17.5},{"s":"scan 1","E":-0.08,"I":-15.5},{"s":"scan 1","E":-0.05,"I":-14},{"s":"scan 1","E":0,"I":-12.8},{"s":"scan 1","E":0.1,"I":-11.5},{"s":"scan 1","E":0.2,"I":-10.7},{"s":"scan 1","E":0.3,"I":-10},{"s":"scan 1","E":0.4,"I":-9.3},
      {"s":"scan 2","E":0.4,"I":-2},{"s":"scan 2","E":0.398,"I":0.5},{"s":"scan 2","E":0.39,"I":1.8},{"s":"scan 2","E":0.35,"I":2.9},{"s":"scan 2","E":0.3,"I":3.4},{"s":"scan 2","E":0.2,"I":4.2},{"s":"scan 2","E":0.1,"I":5.2},{"s":"scan 2","E":0,"I":6.4},{"s":"scan 2","E":-0.05,"I":7.8},{"s":"scan 2","E":-0.09,"I":9.2},{"s":"scan 2","E":-0.125,"I":10.8},{"s":"scan 2","E":-0.16,"I":12.5},{"s":"scan 2","E":-0.2,"I":15},{"s":"scan 2","E":-0.25,"I":19},{"s":"scan 2","E":-0.3,"I":23.3},{"s":"scan 2","E":-0.35,"I":26},{"s":"scan 2","E":-0.4,"I":27.3},{"s":"scan 2","E":-0.45,"I":28},{"s":"scan 2","E":-0.5,"I":28.3},{"s":"scan 2","E":-0.55,"I":28.5},{"s":"scan 2","E":-0.6,"I":31},{"s":"scan 2","E":-0.64,"I":35},{"s":"scan 2","E":-0.685,"I":38.5},{"s":"scan 2","E":-0.72,"I":37},{"s":"scan 2","E":-0.76,"I":36.5},{"s":"scan 2","E":-0.8,"I":37.5},{"s":"scan 2","E":-0.9,"I":41.5},{"s":"scan 2","E":-1,"I":47},
      {"s":"scan 2","E":-0.997,"I":35},{"s":"scan 2","E":-0.99,"I":27},{"s":"scan 2","E":-0.98,"I":21},{"s":"scan 2","E":-0.96,"I":16},{"s":"scan 2","E":-0.93,"I":12.5},{"s":"scan 2","E":-0.88,"I":9.8},{"s":"scan 2","E":-0.8,"I":6.8},{"s":"scan 2","E":-0.7,"I":4},{"s":"scan 2","E":-0.6,"I":1.8},{"s":"scan 2","E":-0.5,"I":-0.5},{"s":"scan 2","E":-0.4,"I":-2.8},{"s":"scan 2","E":-0.3,"I":-5.4},{"s":"scan 2","E":-0.22,"I":-7.9},{"s":"scan 2","E":-0.18,"I":-10.4},{"s":"scan 2","E":-0.15,"I":-13.2},{"s":"scan 2","E":-0.12,"I":-15.2},{"s":"scan 2","E":-0.105,"I":-15.5},{"s":"scan 2","E":-0.08,"I":-14.6},{"s":"scan 2","E":-0.05,"I":-13.8},{"s":"scan 2","E":0,"I":-12.9},{"s":"scan 2","E":0.1,"I":-11.8},{"s":"scan 2","E":0.2,"I":-11},{"s":"scan 2","E":0.3,"I":-10.3},{"s":"scan 2","E":0.4,"I":-9.7},
      {"s":"scan 3","E":0.4,"I":-2},{"s":"scan 3","E":0.398,"I":0.5},{"s":"scan 3","E":0.39,"I":1.8},{"s":"scan 3","E":0.35,"I":2.9},{"s":"scan 3","E":0.3,"I":3.4},{"s":"scan 3","E":0.2,"I":4.2},{"s":"scan 3","E":0.1,"I":5.2},{"s":"scan 3","E":0,"I":6.4},{"s":"scan 3","E":-0.05,"I":7.8},{"s":"scan 3","E":-0.09,"I":9.3},{"s":"scan 3","E":-0.125,"I":10.5},{"s":"scan 3","E":-0.16,"I":12},{"s":"scan 3","E":-0.2,"I":14.8},{"s":"scan 3","E":-0.25,"I":19},{"s":"scan 3","E":-0.3,"I":23},{"s":"scan 3","E":-0.35,"I":27.5},{"s":"scan 3","E":-0.4,"I":30.3},{"s":"scan 3","E":-0.45,"I":31.7},{"s":"scan 3","E":-0.5,"I":32.2},{"s":"scan 3","E":-0.55,"I":33},{"s":"scan 3","E":-0.6,"I":35.8},{"s":"scan 3","E":-0.64,"I":44},{"s":"scan 3","E":-0.685,"I":55},{"s":"scan 3","E":-0.72,"I":51},{"s":"scan 3","E":-0.76,"I":49},{"s":"scan 3","E":-0.8,"I":49.5},{"s":"scan 3","E":-0.9,"I":52.5},{"s":"scan 3","E":-1,"I":57.5},
      {"s":"scan 3","E":-0.997,"I":45},{"s":"scan 3","E":-0.99,"I":36},{"s":"scan 3","E":-0.98,"I":30},{"s":"scan 3","E":-0.96,"I":24},{"s":"scan 3","E":-0.93,"I":19.5},{"s":"scan 3","E":-0.88,"I":15},{"s":"scan 3","E":-0.8,"I":10},{"s":"scan 3","E":-0.7,"I":5.2},{"s":"scan 3","E":-0.6,"I":2.3},{"s":"scan 3","E":-0.5,"I":-0.3},{"s":"scan 3","E":-0.4,"I":-2.7},{"s":"scan 3","E":-0.3,"I":-5.3},{"s":"scan 3","E":-0.22,"I":-7.8},{"s":"scan 3","E":-0.18,"I":-10.3},{"s":"scan 3","E":-0.15,"I":-13},{"s":"scan 3","E":-0.12,"I":-14.8},{"s":"scan 3","E":-0.105,"I":-15},{"s":"scan 3","E":-0.08,"I":-14.8},{"s":"scan 3","E":-0.05,"I":-14.4},{"s":"scan 3","E":0,"I":-13.7},{"s":"scan 3","E":0.1,"I":-12.6},{"s":"scan 3","E":0.2,"I":-11.8},{"s":"scan 3","E":0.3,"I":-11},{"s":"scan 3","E":0.4,"I":-10.4},
      {"s":"scan 4","E":0.4,"I":-2},{"s":"scan 4","E":0.398,"I":0.5},{"s":"scan 4","E":0.39,"I":1.8},{"s":"scan 4","E":0.35,"I":2.9},{"s":"scan 4","E":0.3,"I":3.4},{"s":"scan 4","E":0.2,"I":4.2},{"s":"scan 4","E":0.1,"I":5.2},{"s":"scan 4","E":0,"I":6.4},{"s":"scan 4","E":-0.05,"I":8},{"s":"scan 4","E":-0.09,"I":11},{"s":"scan 4","E":-0.125,"I":14.4},{"s":"scan 4","E":-0.16,"I":13.5},{"s":"scan 4","E":-0.2,"I":15.5},{"s":"scan 4","E":-0.25,"I":18.5},{"s":"scan 4","E":-0.3,"I":21.5},{"s":"scan 4","E":-0.35,"I":24},{"s":"scan 4","E":-0.4,"I":25.8},{"s":"scan 4","E":-0.45,"I":27},{"s":"scan 4","E":-0.5,"I":27.8},{"s":"scan 4","E":-0.55,"I":28.3},{"s":"scan 4","E":-0.6,"I":32},{"s":"scan 4","E":-0.64,"I":40},{"s":"scan 4","E":-0.685,"I":50.5},{"s":"scan 4","E":-0.72,"I":47},{"s":"scan 4","E":-0.76,"I":45.3},{"s":"scan 4","E":-0.8,"I":46.3},{"s":"scan 4","E":-0.9,"I":50.5},{"s":"scan 4","E":-1,"I":57},
      {"s":"scan 4","E":-0.997,"I":44},{"s":"scan 4","E":-0.99,"I":35},{"s":"scan 4","E":-0.98,"I":29},{"s":"scan 4","E":-0.96,"I":23},{"s":"scan 4","E":-0.93,"I":18.8},{"s":"scan 4","E":-0.88,"I":14.5},{"s":"scan 4","E":-0.8,"I":9.7},{"s":"scan 4","E":-0.7,"I":5},{"s":"scan 4","E":-0.6,"I":2},{"s":"scan 4","E":-0.5,"I":-0.5},{"s":"scan 4","E":-0.4,"I":-2.9},{"s":"scan 4","E":-0.3,"I":-5.4},{"s":"scan 4","E":-0.22,"I":-7.9},{"s":"scan 4","E":-0.18,"I":-10.4},{"s":"scan 4","E":-0.15,"I":-13},{"s":"scan 4","E":-0.12,"I":-14.8},{"s":"scan 4","E":-0.105,"I":-15.1},{"s":"scan 4","E":-0.08,"I":-15.2},{"s":"scan 4","E":-0.05,"I":-14.9},{"s":"scan 4","E":0,"I":-14.3},{"s":"scan 4","E":0.1,"I":-13.3},{"s":"scan 4","E":0.2,"I":-12.5},{"s":"scan 4","E":0.3,"I":-11.7},{"s":"scan 4","E":0.4,"I":-11}
    ],
    "ip": [
      {"day":"30 th day","share":50},
      {"day":"First day","share":50}
    ]
  },
  "columns": 1,
  "align": "none",
  "spacing": 20,
  "resolve": {"scale": {"stroke": "independent", "fill": "independent"}},
  "concat": [
    {
      "spacing": 37,
      "resolve": {"scale": {"stroke": "independent", "fill": "independent"}},
      "hconcat": [
        {
          "width": 447, "height": 349,
          "view": {"stroke": null, "fill": "#f9f9f9"},
          "layer": [
            {
              "data": {"name": "pa"},
              "mark": {"type": "line", "strokeWidth": 4, "interpolate": "catmull-rom", "strokeJoin": "round", "strokeCap": "round"},
              "encoding": {
                "x": {"field": "E", "type": "quantitative",
                  "scale": {"domain": [-1.2, 0.6], "range": [28, 447], "reverse": true, "nice": false, "zero": false},
                  "axis": {"title": "E vs. Ag/AgCl (V)", "values": [-1.2,-1.1,-1,-0.9,-0.8,-0.7,-0.6,-0.5,-0.4,-0.3,-0.2,-0.1,0,0.1,0.2,0.3,0.4,0.5,0.6], "tickCount": 100,
                    "labelExpr": "abs(round(datum.value*10)) % 2 == 0 ? replace(format(datum.value, '.1f'), '−', '-') : ''",
                    "labelOverlap": false, "labelFlush": false,
                    "tickSize": 5, "tickWidth": 2, "tickColor": "#111111", "labelColor": "#111111", "labelFontSize": 16, "labelPadding": 6,
                    "titleFontSize": 19, "titleColor": "#111111", "titleY": 51}},
                "y": {"field": "I", "type": "quantitative",
                  "scale": {"domain": [-50, 130], "nice": false, "zero": false},
                  "axis": {"title": "Current (µA)", "offset": -28, "values": [-40,-30,-20,-10,0,10,20,30,40,50,60,70,80,90,100,110,120], "tickCount": 100,
                    "labelExpr": "datum.value % 20 == 0 ? replace(format(datum.value, 'd'), '−', '-') : ''",
                    "labelOverlap": false, "labelFlush": false,
                    "tickSize": 5, "tickWidth": 2, "tickColor": "#111111", "labelColor": "#111111", "labelFontSize": 16, "labelPadding": 3,
                    "titleFontSize": 22, "titleColor": "#111111", "titleX": -56}},
                "stroke": {"field": "s", "type": "nominal", "scale": {"domain": ["30 th day", "First day"], "range": ["#2ec8f0", "#f41a1a"]}, "legend": null},
                "order": {"value": null}
              }
            },
            {
              "data": {"values": [{}]},
              "mark": {"type": "rect", "filled": false, "stroke": "#111111", "strokeWidth": 2.5},
              "encoding": {"x": {"datum": 0.6}, "x2": {"datum": -1.2}, "y": {"datum": -50}, "y2": {"datum": 130}}
            },
            {
              "data": {"values": [{}]},
              "mark": {"type": "rect", "fill": "#ffffff"},
              "encoding": {"x": {"datum": 0.536}, "x2": {"datum": -0.203}, "y": {"datum": 125.9}, "y2": {"datum": 35.1}}
            },
            {
              "data": {"name": "ip"},
              "mark": {"type": "arc", "innerRadius": 37, "outerRadius": 77},
              "encoding": {
                "theta": {"field": "share", "type": "quantitative"},
                "fill": {"field": "day", "type": "nominal", "scale": {"domain": ["30 th day", "First day"], "range": ["#0b6fc5", "#fb7d22"]}, "legend": null},
                "x": {"datum": 0.179},
                "y": {"datum": 80}
              }
            },
            {
              "data": {"values": [{}]},
              "mark": {"type": "text", "text": "First day", "angle": 270, "fontSize": 19, "color": "#fff21a", "align": "center", "baseline": "middle"},
              "encoding": {"x": {"datum": 0.385}, "y": {"datum": 80}}
            },
            {
              "data": {"values": [{}]},
              "mark": {"type": "text", "text": "30 th day", "angle": 270, "fontSize": 19, "color": "#fff21a", "align": "center", "baseline": "middle"},
              "encoding": {"x": {"datum": -0.044}, "y": {"datum": 79}}
            },
            {
              "data": {"values": [{}]},
              "mark": {"type": "text", "text": "I", "fontStyle": "italic", "fontSize": 20, "color": "#e61ee6", "align": "center", "baseline": "middle"},
              "encoding": {"x": {"datum": 0.187}, "y": {"datum": 83}}
            },
            {
              "data": {"values": [{}]},
              "mark": {"type": "text", "text": "p", "fontSize": 20, "color": "#e61ee6", "align": "center", "baseline": "middle"},
              "encoding": {"x": {"datum": 0.152}, "y": {"datum": 83}}
            },
            {
              "data": {"values": [{}]},
              "mark": {"type": "rule", "color": "#ee1c1c", "strokeWidth": 3},
              "encoding": {"x": {"datum": -0.737}, "x2": {"datum": -0.515}, "y": {"datum": 111}}
            },
            {
              "data": {"values": [{}]},
              "mark": {"type": "point", "shape": "triangle-left", "filled": true, "color": "#ee1c1c", "opacity": 1, "size": 110},
              "encoding": {"x": {"datum": -0.512}, "y": {"datum": 111}}
            },
            {
              "data": {"values": [{}]},
              "mark": {"type": "text", "text": "First day", "fontSize": 18, "color": "#e61ee6", "align": "center", "baseline": "middle"},
              "encoding": {"x": {"datum": -0.305}, "y": {"datum": 113}}
            },
            {
              "data": {"values": [{}]},
              "mark": {"type": "rule", "color": "#1c8fe8", "strokeWidth": 3},
              "encoding": {"x": {"datum": -0.341}, "x2": {"datum": -0.6}, "y": {"datum": 35.2}}
            },
            {
              "data": {"values": [{}]},
              "mark": {"type": "point", "shape": "triangle-right", "filled": true, "color": "#1c8fe8", "opacity": 1, "size": 110},
              "encoding": {"x": {"datum": -0.603}, "y": {"datum": 35.2}}
            },
            {
              "data": {"values": [{}]},
              "mark": {"type": "text", "text": "30 th day", "fontSize": 18, "color": "#e61ee6", "align": "center", "baseline": "middle"},
              "encoding": {"x": {"datum": -0.586}, "y": {"datum": 26.8}}
            },
            {
              "data": {"values": [{}]},
              "mark": {"type": "point", "shape": "circle", "filled": true, "fill": "#fde9cc", "stroke": "#3c6aa0", "strokeWidth": 1.3, "opacity": 1, "size": 1018},
              "encoding": {"x": {"datum": 0.508}, "y": {"datum": 116.6}}
            },
            {
              "data": {"values": [{}]},
              "mark": {"type": "text", "text": "A", "fontSize": 20, "color": "#ee1111", "align": "center", "baseline": "middle"},
              "encoding": {"x": {"datum": 0.508}, "y": {"datum": 116.2}}
            }
          ]
        },
        {
          "width": 423, "height": 350,
          "view": {"stroke": "#111111", "strokeWidth": 2.5, "fill": "#f9f9f9"},
          "layer": [
            {
              "data": {"name": "pb"},
              "mark": {"type": "line", "strokeWidth": 4.5, "interpolate": "catmull-rom", "strokeJoin": "round", "strokeCap": "round"},
              "encoding": {
                "x": {"field": "E", "type": "quantitative",
                  "scale": {"domain": [-1.2, 0.6], "reverse": true, "nice": false, "zero": false},
                  "axis": {"title": "E vs. Ag/AgCl (V)", "values": [-1.2,-1.1,-1,-0.9,-0.8,-0.7,-0.6,-0.5,-0.4,-0.3,-0.2,-0.1,0,0.1,0.2,0.3,0.4,0.5,0.6], "tickCount": 100,
                    "labelExpr": "abs(round(datum.value*10)) % 2 == 0 ? replace(format(datum.value, '.1f'), '−', '-') : ''",
                    "labelOverlap": false, "labelFlush": false,
                    "tickSize": 5, "tickWidth": 2, "tickColor": "#111111", "labelColor": "#111111", "labelFontSize": 16, "labelPadding": 6,
                    "titleFontSize": 19, "titleColor": "#111111", "titleY": 57}},
                "y": {"field": "I", "type": "quantitative",
                  "scale": {"domain": [-50, 90], "nice": false, "zero": false},
                  "axis": {"title": "Current (µA)", "values": [-40,-30,-20,-10,0,10,20,30,40,50,60,70,80], "tickCount": 100,
                    "labelExpr": "datum.value % 20 == 0 ? replace(format(datum.value, 'd'), '−', '-') : ''",
                    "labelOverlap": false, "labelFlush": false,
                    "tickSize": 5, "tickWidth": 2, "tickColor": "#111111", "labelColor": "#111111", "labelFontSize": 16, "labelPadding": 3,
                    "titleFontSize": 22, "titleColor": "#111111", "titleX": -52}},
                "stroke": {"field": "s", "type": "nominal", "scale": {"domain": ["cycle 1", "cycle 50", "cycle 100"], "range": ["#1c3cf0", "#1c3cf0", "#1c3cf0"]}, "legend": null},
                "order": {"value": null}
              }
            },
            {
              "data": {"values": [{}]},
              "mark": {"type": "rule", "color": "#ee1c1c", "strokeWidth": 3},
              "encoding": {"x": {"datum": -0.707}, "x2": {"datum": -0.345}, "y": {"datum": 62}}
            },
            {
              "data": {"values": [{}]},
              "mark": {"type": "point", "shape": "triangle-left", "filled": true, "color": "#ee1c1c", "opacity": 1, "size": 110},
              "encoding": {"x": {"datum": -0.342}, "y": {"datum": 62}}
            },
            {
              "data": {"values": [{}]},
              "mark": {"type": "rule", "color": "#ee1c1c", "strokeWidth": 3},
              "encoding": {"x": {"datum": -0.779}, "x2": {"datum": -0.345}, "y": {"datum": 52.1}}
            },
            {
              "data": {"values": [{}]},
              "mark": {"type": "point", "shape": "triangle-left", "filled": true, "color": "#ee1c1c", "opacity": 1, "size": 110},
              "encoding": {"x": {"datum": -0.342}, "y": {"datum": 52.1}}
            },
            {
              "data": {"values": [{}]},
              "mark": {"type": "text", "text": "First Cycle", "fontSize": 18, "color": "#e61ee6", "align": "center", "baseline": "middle"},
              "encoding": {"x": {"datum": -0.093}, "y": {"datum": 64.6}}
            },
            {
              "data": {"values": [{}]},
              "mark": {"type": "text", "text": "100 cycle", "fontSize": 18, "color": "#e61ee6", "align": "center", "baseline": "middle"},
              "encoding": {"x": {"datum": -0.064}, "y": {"datum": 52.3}}
            },
            {
              "data": {"values": [{}]},
              "mark": {"type": "point", "shape": "circle", "filled": true, "fill": "#fde9cc", "stroke": "#3c6aa0", "strokeWidth": 1.3, "opacity": 1, "size": 1075},
              "encoding": {"x": {"datum": 0.479}, "y": {"datum": 80.9}}
            },
            {
              "data": {"values": [{}]},
              "mark": {"type": "text", "text": "B", "fontSize": 20, "color": "#ee1111", "align": "center", "baseline": "middle"},
              "encoding": {"x": {"datum": 0.479}, "y": {"datum": 80.6}}
            }
          ]
        }
      ]
    },
    {
      "spacing": 8,
      "resolve": {"scale": {"stroke": "independent", "fill": "independent"}},
      "hconcat": [
        {
          "width": 290, "height": 269,
          "view": {"stroke": "#2222ee", "strokeWidth": 2.5, "fill": "#f9f9f9"},
          "layer": [
            {
              "data": {"name": "pc"},
              "mark": {"type": "line", "strokeWidth": 3, "interpolate": "catmull-rom", "strokeJoin": "round", "strokeCap": "round"},
              "encoding": {
                "x": {"field": "E", "type": "quantitative",
                  "scale": {"domain": [-1.2, 0.6], "reverse": true, "nice": false, "zero": false},
                  "axis": {"title": "E vs. Ag/AgCl (V)", "values": [-1.2,-1.1,-1,-0.9,-0.8,-0.7,-0.6,-0.5,-0.4,-0.3,-0.2,-0.1,0,0.1,0.2,0.3,0.4,0.5,0.6], "tickCount": 100,
                    "labelExpr": "abs(round(datum.value*10)) % 2 == 0 ? replace(format(datum.value, '.1f'), '−', '-') : ''",
                    "labelOverlap": false, "labelFlush": false,
                    "tickSize": 4, "tickWidth": 1.5, "tickColor": "#2222ee", "labelColor": "#2222ee", "labelFontSize": 12, "labelPadding": 3,
                    "titleFontSize": 22, "titleColor": "#111111", "titleY": 39}},
                "y": {"field": "I", "type": "quantitative",
                  "scale": {"domain": [-25, 65], "nice": false, "zero": false},
                  "axis": {"title": "Current (µA)", "values": [-20,-15,-10,-5,0,5,10,15,20,25,30,35,40,45,50,55,60], "tickCount": 100,
                    "labelExpr": "datum.value % 10 == 0 ? replace(format(datum.value, 'd'), '−', '-') : ''",
                    "labelOverlap": false, "labelFlush": false,
                    "tickSize": 4, "tickWidth": 1.5, "tickColor": "#2222ee", "labelColor": "#2222ee", "labelFontSize": 12, "labelPadding": 1,
                    "titleFontSize": 22, "titleColor": "#111111", "titleX": -41}},
                "stroke": {"field": "s", "type": "nominal", "scale": {"domain": ["scan 1", "scan 2", "scan 3", "scan 4"], "range": ["#5a2fe0", "#30c4f0", "#35e035", "#ff5a1e"]}, "legend": null},
                "order": {"value": null}
              }
            },
            {
              "data": {"values": [{}]},
              "mark": {"type": "point", "shape": "circle", "filled": true, "fill": "#fde9cc", "stroke": "#3c6aa0", "strokeWidth": 1.2, "opacity": 1, "size": 755},
              "encoding": {"x": {"datum": 0.423}, "y": {"datum": 56.2}}
            },
            {
              "data": {"values": [{}]},
              "mark": {"type": "text", "text": "C", "fontSize": 18, "color": "#ee1111", "align": "center", "baseline": "middle"},
              "encoding": {"x": {"datum": 0.423}, "y": {"datum": 56}}
            }
          ]
        },
        {
          "width": 289, "height": 261,
          "view": {"stroke": "#2222ee", "strokeWidth": 2.5, "fill": "#f9f9f9"},
          "layer": [
            {
              "data": {"name": "pd"},
              "mark": {"type": "line", "strokeWidth": 3, "interpolate": "catmull-rom", "strokeJoin": "round", "strokeCap": "round"},
              "encoding": {
                "x": {"field": "E", "type": "quantitative",
                  "scale": {"domain": [-1.2, 0.6], "reverse": true, "nice": false, "zero": false},
                  "axis": {"title": "E vs. Ag/AgCl (V)", "values": [-1.2,-1.1,-1,-0.9,-0.8,-0.7,-0.6,-0.5,-0.4,-0.3,-0.2,-0.1,0,0.1,0.2,0.3,0.4,0.5,0.6], "tickCount": 100,
                    "labelExpr": "abs(round(datum.value*10)) % 2 == 0 ? replace(format(datum.value, '.1f'), '−', '-') : ''",
                    "labelOverlap": false, "labelFlush": false,
                    "tickSize": 4, "tickWidth": 1.5, "tickColor": "#2222ee", "labelColor": "#2222ee", "labelFontSize": 12, "labelPadding": 3,
                    "titleFontSize": 22, "titleColor": "#111111", "titleY": 47}},
                "y": {"field": "I", "type": "quantitative",
                  "scale": {"domain": [-30, 70], "nice": false, "zero": false},
                  "axis": {"title": "Current (µA)", "values": [-20,-10,0,10,20,30,40,50,60], "tickCount": 100,
                    "labelExpr": "datum.value % 20 == 0 ? replace(format(datum.value, 'd'), '−', '-') : ''",
                    "labelOverlap": false, "labelFlush": false,
                    "tickSize": 4, "tickWidth": 1.5, "tickColor": "#2222ee", "labelColor": "#2222ee", "labelFontSize": 12, "labelPadding": 1,
                    "titleFontSize": 22, "titleColor": "#111111", "titleX": -40}},
                "stroke": {"field": "s", "type": "nominal", "scale": {"domain": ["scan 1", "scan 2", "scan 3", "scan 4"], "range": ["#3a3a3a", "#f24848", "#1c64e0", "#1c9e5c"]}, "legend": null},
                "order": {"value": null}
              }
            },
            {
              "data": {"values": [{}]},
              "mark": {"type": "point", "shape": "circle", "filled": true, "fill": "#fde9cc", "stroke": "#3c6aa0", "strokeWidth": 1.2, "opacity": 1, "size": 855},
              "encoding": {"x": {"datum": 0.423}, "y": {"datum": 59.4}}
            },
            {
              "data": {"values": [{}]},
              "mark": {"type": "text", "text": "D", "fontSize": 18, "color": "#ee1111", "align": "center", "baseline": "middle"},
              "encoding": {"x": {"datum": 0.423}, "y": {"datum": 59.2}}
            }
          ]
        },
        {
          "width": 284, "height": 261,
          "view": {"stroke": "#2222ee", "strokeWidth": 2.5, "fill": "#f9f9f9"},
          "layer": [
            {
              "data": {"name": "pe"},
              "mark": {"type": "line", "strokeWidth": 3, "interpolate": "catmull-rom", "strokeJoin": "round", "strokeCap": "round"},
              "encoding": {
                "x": {"field": "E", "type": "quantitative",
                  "scale": {"domain": [-1.2, 0.6], "reverse": true, "nice": false, "zero": false},
                  "axis": {"title": "E vs. Ag/AgCl (V)", "values": [-1.2,-1.1,-1,-0.9,-0.8,-0.7,-0.6,-0.5,-0.4,-0.3,-0.2,-0.1,0,0.1,0.2,0.3,0.4,0.5,0.6], "tickCount": 100,
                    "labelExpr": "abs(round(datum.value*10)) % 2 == 0 ? replace(format(datum.value, '.1f'), '−', '-') : ''",
                    "labelOverlap": false, "labelFlush": false,
                    "tickSize": 4, "tickWidth": 1.5, "tickColor": "#2222ee", "labelColor": "#2222ee", "labelFontSize": 12, "labelPadding": 3,
                    "titleFontSize": 22, "titleColor": "#111111", "titleY": 47}},
                "y": {"field": "I", "type": "quantitative",
                  "scale": {"domain": [-25, 65], "nice": false, "zero": false},
                  "axis": {"title": "Current (µA)", "values": [-20,-15,-10,-5,0,5,10,15,20,25,30,35,40,45,50,55,60], "tickCount": 100,
                    "labelExpr": "datum.value % 10 == 0 ? replace(format(datum.value, 'd'), '−', '-') : ''",
                    "labelOverlap": false, "labelFlush": false,
                    "tickSize": 4, "tickWidth": 1.5, "tickColor": "#2222ee", "labelColor": "#2222ee", "labelFontSize": 12, "labelPadding": 1,
                    "titleFontSize": 22, "titleColor": "#111111", "titleX": -49}},
                "stroke": {"field": "s", "type": "nominal", "scale": {"domain": ["scan 1", "scan 2", "scan 3", "scan 4"], "range": ["#2424e8", "#30e030", "#ff6a22", "#d81010"]}, "legend": null},
                "order": {"value": null}
              }
            },
            {
              "data": {"values": [{}]},
              "mark": {"type": "point", "shape": "circle", "filled": true, "fill": "#fde9cc", "stroke": "#3c6aa0", "strokeWidth": 1.2, "opacity": 1, "size": 962},
              "encoding": {"x": {"datum": 0.409}, "y": {"datum": 56.6}}
            },
            {
              "data": {"values": [{}]},
              "mark": {"type": "text", "text": "E", "fontSize": 18, "color": "#ee1111", "align": "center", "baseline": "middle"},
              "encoding": {"x": {"datum": 0.409}, "y": {"datum": 56.4}}
            }
          ]
        }
      ]
    }
  ]
}
